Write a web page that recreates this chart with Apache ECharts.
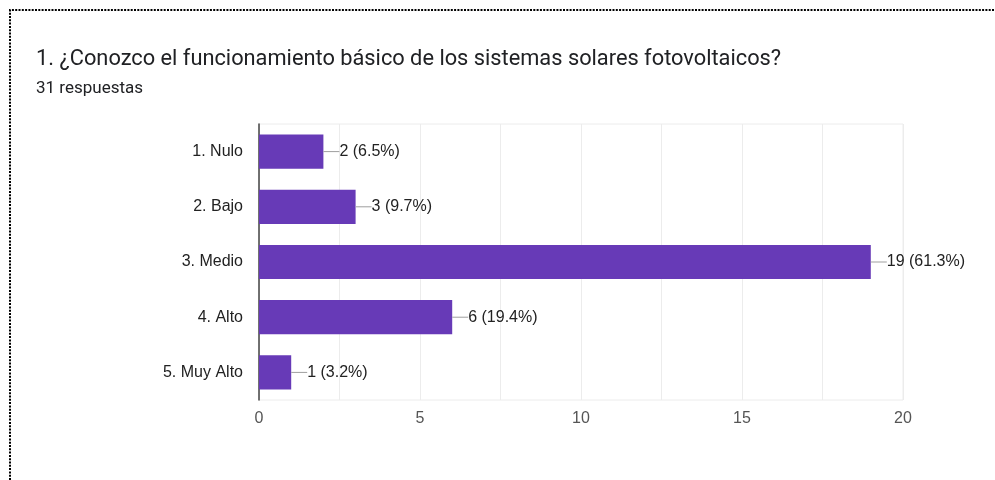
<!DOCTYPE html>
<html>
<head>
<meta charset="utf-8">
<script src="https://cdn.jsdelivr.net/npm/echarts@6/dist/echarts.min.js"></script>
<style>
  html, body { margin: 0; padding: 0; background: #fff; }
  #chart { width: 995px; height: 480px; }
</style>
</head>
<body>
<div id="chart"></div>
<script>
// Survey question and answers
const titleText = '1. ¿Conozco el funcionamiento básico de los sistemas solares fotovoltaicos?';
const subtitleText = '31 respuestas';
const categories = ['1. Nulo', '2. Bajo', '3. Medio', '4. Alto', '5. Muy Alto'];
const counts = [2, 3, 19, 6, 1];
const percents = ['6.5%', '9.7%', '61.3%', '19.4%', '3.2%'];
const axisTicks = [0, 5, 10, 15, 20];

const chart = echarts.init(document.getElementById('chart'), null, { renderer: 'canvas' });

const headFont = 'Roboto, "Noto Sans", sans-serif';
const chartFont = '"Liberation Sans", Arial, sans-serif';

chart.setOption({
  animation: false,
  backgroundColor: '#ffffff',
  title: [
    {
      text: titleText,
      left: 31, top: 44,
      textStyle: { fontFamily: headFont, fontSize: 21.8, fontWeight: 'normal', color: '#202124' }
    },
    {
      text: subtitleText,
      left: 31, top: 75,
      textStyle: { fontFamily: headFont, fontSize: 17, fontWeight: 'normal', color: '#202124' }
    }
  ],
  graphic: [
    {
      type: 'polyline',
      shape: { points: [[10, 480], [10, 10], [994, 10]] },
      style: { stroke: '#000', lineWidth: 2, lineDash: [2, 1.3], fill: null },
      silent: true
    }
  ],
  grid: {
    left: 259, right: 92, top: 124, bottom: 80,
    show: true, borderColor: '#ececec', borderWidth: 1
  },
  xAxis: {
    type: 'value',
    min: axisTicks[0],
    max: axisTicks[axisTicks.length - 1],
    interval: 2.5,
    axisLine: { show: false },
    axisTick: { show: false },
    splitLine: { show: true, lineStyle: { color: '#ececec', width: 1 } },
    axisLabel: {
      margin: 11,
      fontFamily: chartFont, fontSize: 16, color: '#555',
      formatter: v => (axisTicks.indexOf(v) >= 0 ? String(v) : '')
    }
  },
  yAxis: {
    type: 'category',
    inverse: true,
    data: categories,
    axisLine: { show: true, lineStyle: { color: '#444', width: 1.5 } },
    axisTick: { show: false },
    splitLine: { show: false },
    axisLabel: { margin: 16, fontFamily: chartFont, fontSize: 16, color: '#222' }
  },
  series: [
    {
      type: 'bar',
      data: counts,
      barCategoryGap: '38%',
      itemStyle: { color: '#673ab7' },
      label: {
        show: true,
        position: 'right',
        distance: 0,
        fontFamily: chartFont, fontSize: 16, color: '#222',
        formatter: p => '{lead|}' + p.value + ' (' + percents[p.dataIndex] + ')',
        rich: {
          lead: { width: 16, height: 1, backgroundColor: '#9e9e9e', verticalAlign: 'middle' }
        }
      }
    }
  ]
});
</script>
</body>
</html>
